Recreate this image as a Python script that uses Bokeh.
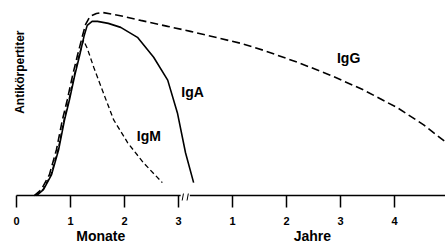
from bokeh.plotting import figure
from bokeh.models import FixedTicker, Label, Range1d, LinearAxis
from bokeh.core.properties import value
from bokeh.embed import file_html
from bokeh.resources import INLINE
import math

# ---- data (x: months 0..3, then years mapped to 3+year) ----
igg_x = [0.33, 0.46, 0.61, 0.74, 0.85, 0.94, 1.04, 1.13, 1.22, 1.28, 1.36, 1.48, 1.59, 1.90, 2.30,
         2.80, 3.22, 4.15, 4.57, 5.20, 5.81, 6.43, 7.06, 7.54, 7.94, 8.10]
igg_y = [0, 6, 21, 46, 76, 96, 121, 141, 160, 172, 180, 183, 184, 181, 176,
         170, 165, 153, 146, 134, 121, 106, 88, 71, 54, 46]

iga_x = [0.37, 0.50, 0.65, 0.78, 0.89, 0.98, 1.08, 1.17, 1.25, 1.31, 1.40, 1.50, 1.70, 1.93, 2.24,
         2.54, 2.80, 2.98, 3.13, 3.28]
iga_y = [0, 6, 21, 46, 76, 96, 121, 141, 160, 171, 175, 175, 173, 169, 159,
         139, 116, 83, 43, 13]

igm_x = [0.36, 0.49, 0.64, 0.77, 0.88, 0.97, 1.07, 1.16, 1.24, 1.31, 1.43, 1.61, 1.80, 2.06, 2.35, 2.70]
igm_y = [0, 6, 21, 46, 76, 96, 121, 141, 156, 148, 129, 103, 76, 53, 33, 13]

series_names = ["IgG", "IgA", "IgM"]
label_x = [6.15, 3.26, 2.45]
label_y = [138, 104, 60]

tick_pos = [0, 1, 2, 3, 4, 5, 6, 7]
tick_labels = ["0", "1", "2", "3", "1", "2", "3", "4"]
unit_names = ["Monate", "Jahre"]
unit_x = [1.56, 5.48]

# ---- layout constants ----
BREAK_START, BREAK_END = 3.04, 3.21
SLASHES = [3.08, 3.17]
FONT = "Liberation Sans"

p = figure(width=445, height=246, output_backend="svg", toolbar_location=None,
           x_range=Range1d(-0.296, 7.944), y_range=Range1d(-7, 196),
           min_border_left=0, min_border_right=0, min_border_top=0, min_border_bottom=43)
p.outline_line_color = None
p.xgrid.visible = False
p.ygrid.visible = False
p.yaxis.visible = False
p.background_fill_color = "white"
p.border_fill_color = "white"

ax = p.xaxis[0]
ax.ticker = FixedTicker(ticks=tick_pos)
ax.major_label_overrides = {t: l for t, l in zip(tick_pos, tick_labels)}
ax.axis_line_color = None
ax.major_tick_in = 7
ax.major_tick_out = 5
ax.major_tick_line_width = 1.5
ax.major_tick_line_color = "black"
ax.minor_tick_line_color = None
ax.major_label_standoff = 9
ax.major_label_text_font = FONT
ax.major_label_text_font_style = "bold"
ax.major_label_text_font_size = "11px"
ax.major_label_text_color = "black"

# second axis below carrying the unit names
ax2 = LinearAxis(ticker=FixedTicker(ticks=unit_x),
                 major_label_overrides={x: n for x, n in zip(unit_x, unit_names)})
ax2.axis_line_color = None
ax2.major_tick_line_color = None
ax2.minor_tick_line_color = None
ax2.major_tick_in = 0
ax2.major_tick_out = 0
ax2.major_label_standoff = 0
ax2.major_label_text_font = FONT
ax2.major_label_text_font_style = "bold"
ax2.major_label_text_font_size = "14px"
ax2.major_label_text_color = "black"
p.add_layout(ax2, "below")

# axis line with break
p.segment(x0=[0, BREAK_END], y0=[0, 0], x1=[BREAK_START, 8.2], y1=[0, 0],
          line_color="black", line_width=1.5)
p.segment(x0=[s - 0.012 for s in SLASHES], y0=[-5, -5], x1=[s + 0.012 for s in SLASHES], y1=[2, 2],
          line_color="black", line_width=1)

# curves
p.line(igg_x, igg_y, line_color="black", line_width=1.6, line_dash="8 4")
p.line(igm_x, igm_y, line_color="black", line_width=1.3, line_dash="5 3")
p.line(iga_x, iga_y, line_color="black", line_width=1.6)

p.text(x=label_x, y=label_y, text=series_names, text_font=value(FONT), text_font_style="bold",
       text_font_size="14px", text_align="center", text_baseline="middle", text_color="black")

p.add_layout(Label(x=0.056, y=124, text="Antikörpertiter", angle=math.pi / 2,
                   text_font=FONT, text_font_style="bold", text_font_size="12px",
                   text_align="center", text_baseline="middle", text_color="black"))

open("out.html", "w").write(file_html(p, INLINE))
